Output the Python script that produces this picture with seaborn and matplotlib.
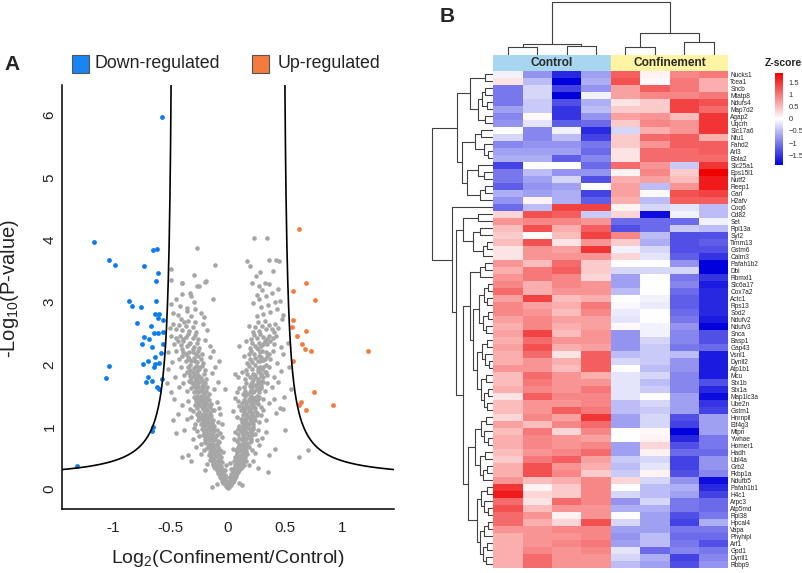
import numpy as np
import pandas as pd
import matplotlib
matplotlib.use("Agg")
import matplotlib.pyplot as plt
import seaborn as sns
from matplotlib.colors import LinearSegmentedColormap
from matplotlib.patches import Rectangle

sns.set_theme(style="white")
plt.rcParams['font.family'] = ['Liberation Sans', 'DejaVu Sans']
plt.rcParams['mathtext.fontset'] = 'custom'
plt.rcParams['mathtext.rm'] = 'Liberation Sans'

# ---------------- Volcano data ----------------
down_points = [(-0.574, 5.97), (-1.17, 3.97), (-1.04, 3.68), (-0.987, 3.60), (-0.736, 3.58),
               (-0.658, 3.84), (-0.623, 3.85), (-0.608, 3.46), (-0.631, 3.33), (-0.865, 3.01),
               (-0.838, 2.94), (-0.762, 2.92), (-0.631, 3.02), (-0.797, 2.66), (-0.635, 2.80),
               (-0.605, 2.81), (-0.611, 2.74), (-0.570, 2.71), (-0.670, 2.61), (-0.736, 2.44),
               (-0.690, 2.41), (-0.748, 2.33), (-0.646, 2.50), (-0.611, 2.50), (-0.565, 2.52),
               (-0.661, 2.28), (-0.570, 2.33), (-0.585, 2.18), (-0.635, 2.11), (-0.702, 2.05),
               (-0.740, 2.00), (-0.640, 2.01), (-0.603, 2.02), (-0.646, 1.95), (-1.04, 1.98),
               (-1.066, 1.78), (-0.696, 1.80), (-0.719, 1.72), (-0.661, 1.73), (-0.576, 1.76),
               (-0.617, 1.63), (-0.605, 1.61), (-0.658, 1.00), (-0.666, 0.93), (-1.316, 0.37)]
up_points = [(0.620, 4.17), (0.678, 3.30), (0.568, 3.18), (0.757, 3.03), (0.568, 2.71),
             (0.559, 2.60), (0.678, 2.54), (0.603, 2.45), (0.644, 2.33), (0.670, 2.25),
             (0.728, 2.22), (1.226, 2.22), (0.571, 2.06), (0.748, 1.55), (0.635, 1.39),
             (0.620, 1.34), (0.920, 1.34), (0.684, 1.26)]
gray_points = [
    # tip
    (0.00,0.01),(-0.01,0.03),(0.01,0.03),(-0.02,0.05),(0.02,0.06),(-0.03,0.08),(0.03,0.07),(0.00,0.06),
    (-0.04,0.10),(0.04,0.11),(-0.01,0.09),(0.01,0.12),(-0.05,0.13),(0.05,0.14),(-0.03,0.15),(0.03,0.16),
    (-0.06,0.17),(0.06,0.18),(-0.07,0.20),(0.07,0.21),(-0.05,0.22),(0.05,0.23),(-0.08,0.24),(0.08,0.25),
    (-0.02,0.19),(0.02,0.20),(-0.14,0.04),(-0.10,0.08),(0.10,0.10),(0.12,0.06),
    (-0.02,0.13),(0.02,0.14),(-0.04,0.18),(0.04,0.19),(-0.06,0.25),(0.06,0.26),(-0.08,0.31),(0.08,0.32),
    (-0.11,0.33),(0.11,0.34),(-0.07,0.36),(0.07,0.37),(-0.09,0.39),(0.09,0.40),(-0.12,0.43),(0.12,0.44),
    (-0.08,0.46),(0.08,0.47),(-0.15,0.50),(0.15,0.51),(-0.03,0.22),(0.03,0.24),(-0.06,0.29),(0.06,0.30),
    (-0.13,0.38),(0.14,0.39),(-0.20,0.30),(0.22,0.45),
    # 0.25-0.5
    (-0.04,0.27),(-0.07,0.28),(-0.10,0.30),(-0.05,0.32),(-0.09,0.34),(-0.12,0.35),(-0.06,0.37),(-0.11,0.39),
    (-0.08,0.41),(-0.13,0.42),(-0.05,0.44),(-0.10,0.45),(-0.14,0.47),(-0.07,0.48),(-0.12,0.49),(-0.16,0.46),
    (-0.03,0.30),(-0.09,0.26),(-0.18,0.40),(-0.02,0.38),
    (0.04,0.27),(0.07,0.29),(0.10,0.31),(0.05,0.33),(0.09,0.35),(0.12,0.36),(0.06,0.38),(0.11,0.40),
    (0.08,0.42),(0.13,0.43),(0.05,0.45),(0.10,0.46),(0.14,0.48),(0.07,0.49),(0.12,0.50),(0.16,0.45),
    (0.03,0.32),(0.09,0.27),(0.18,0.38),(0.02,0.41),(0.35,0.27),(0.26,0.33),
    # 0.5-0.75
    (-0.06,0.52),(-0.10,0.53),(-0.14,0.54),(-0.17,0.55),(-0.08,0.57),(-0.12,0.58),(-0.16,0.60),(-0.07,0.62),
    (-0.11,0.63),(-0.15,0.64),(-0.18,0.66),(-0.09,0.67),(-0.13,0.69),(-0.17,0.70),(-0.10,0.72),(-0.14,0.73),
    (-0.19,0.74),(-0.08,0.75),(-0.21,0.62),(-0.24,0.57),(-0.04,0.60),(-0.28,0.68),(-0.35,0.55),(-0.40,0.52),
    (0.06,0.52),(0.10,0.53),(0.14,0.55),(0.17,0.56),(0.08,0.58),(0.12,0.59),(0.16,0.61),(0.07,0.62),
    (0.11,0.64),(0.15,0.65),(0.18,0.67),(0.09,0.68),(0.13,0.70),(0.17,0.71),(0.10,0.73),(0.14,0.74),
    (0.19,0.75),(0.21,0.63),(0.24,0.58),(0.04,0.64),(0.27,0.70),(0.41,0.65),(0.62,0.52),(0.70,0.63),
    (-0.08,0.54),(0.08,0.55),(-0.12,0.56),(0.12,0.57),(-0.15,0.59),(0.15,0.60),(-0.10,0.61),(0.10,0.62),
    (-0.13,0.65),(0.13,0.66),(-0.17,0.68),(0.17,0.69),(-0.11,0.70),(0.11,0.71),(-0.16,0.73),(0.16,0.74),
    # 0.75-1.0
    (-0.09,0.77),(-0.13,0.78),(-0.17,0.79),(-0.20,0.80),(-0.11,0.82),(-0.15,0.83),(-0.19,0.84),(-0.22,0.86),
    (-0.10,0.87),(-0.14,0.88),(-0.18,0.90),(-0.21,0.91),(-0.12,0.93),(-0.16,0.94),(-0.20,0.95),(-0.23,0.97),
    (-0.13,0.98),(-0.17,0.99),(-0.25,0.85),(-0.27,0.93),(-0.07,0.90),(-0.31,0.80),(-0.38,0.95),(-0.45,0.90),
    (-0.05,0.83),
    (0.08,0.77),(0.12,0.78),(0.16,0.80),(0.20,0.81),(0.10,0.82),(0.14,0.84),(0.18,0.85),(0.21,0.86),
    (0.09,0.88),(0.13,0.89),(0.17,0.90),(0.20,0.92),(0.11,0.93),(0.15,0.94),(0.19,0.96),(0.22,0.97),
    (0.12,0.98),(0.16,1.00),(0.24,0.88),(0.26,0.95),(0.06,0.92),(0.30,0.82),(0.05,0.80),
    (-0.20,0.76),(0.20,0.77),(-0.12,0.79),(0.12,0.80),(-0.15,0.81),(0.15,0.82),(-0.18,0.83),(0.18,0.84),
    (-0.13,0.86),(0.13,0.87),(-0.16,0.89),(0.16,0.90),(-0.20,0.92),(0.20,0.93),(-0.14,0.95),(0.14,0.96),
    (-0.18,0.97),(0.18,0.98),(-0.22,0.99),(0.22,1.00),(-0.10,0.95),(0.09,0.97),(-0.24,0.72),(0.25,0.78),
    (-0.30,0.98),(0.33,0.92),
    # 1.0-1.25
    (-0.12,1.01),(-0.16,1.02),(-0.20,1.03),(-0.24,1.04),(-0.14,1.06),(-0.18,1.07),(-0.22,1.08),(-0.26,1.10),
    (-0.13,1.11),(-0.17,1.12),(-0.21,1.14),(-0.25,1.15),(-0.15,1.17),(-0.19,1.18),(-0.23,1.19),(-0.27,1.21),
    (-0.16,1.22),(-0.20,1.24),(-0.29,1.05),(-0.32,1.16),(-0.09,1.08),(-0.36,1.12),(-0.44,1.20),(-0.07,1.20),
    (0.10,1.01),(0.14,1.03),(0.18,1.04),(0.22,1.05),(0.12,1.07),(0.16,1.08),(0.20,1.09),(0.24,1.11),
    (0.11,1.12),(0.15,1.13),(0.19,1.15),(0.23,1.16),(0.13,1.18),(0.17,1.19),(0.21,1.20),(0.25,1.22),
    (0.14,1.23),(0.18,1.25),(0.27,1.07),(0.29,1.18),(0.08,1.15),(0.33,1.10),(0.42,1.22),(0.48,1.29),
    (-0.14,1.03),(0.13,1.04),(-0.18,1.05),(0.17,1.06),(-0.22,1.06),(0.21,1.07),(-0.16,1.09),(0.15,1.10),
    (-0.20,1.11),(0.19,1.12),(-0.24,1.12),(0.23,1.13),(-0.18,1.15),(0.17,1.16),(-0.22,1.17),(0.21,1.18),
    (-0.26,1.18),(0.25,1.19),(-0.17,1.20),(0.16,1.21),(-0.21,1.22),(0.20,1.23),(-0.25,1.24),(0.24,1.25),
    # 1.25-1.5
    (-0.14,1.26),(-0.18,1.27),(-0.22,1.28),(-0.27,1.30),(-0.16,1.31),(-0.20,1.33),(-0.25,1.34),(-0.29,1.35),
    (-0.15,1.37),(-0.19,1.38),(-0.23,1.39),(-0.28,1.41),(-0.17,1.43),(-0.21,1.44),(-0.26,1.45),(-0.30,1.47),
    (-0.18,1.48),(-0.24,1.50),(-0.33,1.29),(-0.35,1.42),(-0.10,1.40),(-0.40,1.35),(-0.47,1.45),(-0.08,1.30),
    (0.11,1.26),(0.15,1.28),(0.19,1.29),(0.24,1.30),(0.13,1.32),(0.17,1.33),(0.22,1.35),(0.26,1.36),
    (0.12,1.38),(0.16,1.39),(0.21,1.40),(0.25,1.42),(0.14,1.43),(0.18,1.45),(0.23,1.46),(0.27,1.47),
    (0.15,1.49),(0.20,1.50),(0.29,1.32),(0.31,1.44),(0.09,1.41),(0.36,1.38),(0.45,1.30),(0.49,1.48),
    (0.06,1.46),
    (-0.19,1.29),(0.18,1.30),(-0.23,1.31),(0.22,1.32),(-0.17,1.34),(0.16,1.35),(-0.21,1.36),(0.20,1.37),
    (-0.26,1.38),(0.24,1.39),(-0.19,1.41),(0.18,1.42),(-0.24,1.43),(0.22,1.44),(-0.28,1.44),(0.26,1.45),
    (-0.21,1.46),(0.20,1.47),(-0.27,1.49),(0.25,1.49),(-0.12,1.27),(0.10,1.33),(-0.31,1.25),(0.31,1.27),
    # 1.5-1.75
    (-0.17,1.52),(-0.21,1.53),(-0.26,1.55),(-0.30,1.56),(-0.19,1.58),(-0.24,1.59),(-0.28,1.61),(-0.32,1.62),
    (-0.18,1.64),(-0.23,1.65),(-0.27,1.67),(-0.31,1.68),(-0.20,1.70),(-0.25,1.71),(-0.29,1.73),(-0.34,1.74),
    (-0.36,1.58),(-0.39,1.70),(-0.12,1.60),(-0.43,1.63),(-0.50,1.55),(-0.09,1.72),
    (0.13,1.52),(0.17,1.53),(0.22,1.55),(0.27,1.56),(0.15,1.58),(0.20,1.59),(0.25,1.61),(0.29,1.62),
    (0.14,1.64),(0.19,1.65),(0.24,1.67),(0.28,1.68),(0.16,1.70),(0.21,1.71),(0.26,1.73),(0.30,1.74),
    (0.32,1.58),(0.34,1.70),(0.10,1.62),(0.38,1.64),(0.44,1.72),(0.08,1.55),
    (-0.20,1.55),(0.19,1.56),(-0.24,1.57),(0.23,1.58),(-0.28,1.58),(0.27,1.60),(-0.22,1.62),(0.21,1.63),
    (-0.26,1.63),(0.25,1.64),(-0.30,1.65),(0.29,1.66),(-0.22,1.67),(0.20,1.68),(-0.27,1.69),(0.26,1.70),
    (-0.32,1.71),(0.31,1.72),(-0.23,1.74),(0.22,1.75),
    # 1.75-2.0
    (-0.19,1.77),(-0.24,1.78),(-0.29,1.80),(-0.33,1.81),(-0.21,1.84),(-0.27,1.85),(-0.31,1.87),(-0.36,1.88),
    (-0.20,1.91),(-0.25,1.92),(-0.30,1.94),(-0.35,1.95),(-0.23,1.97),(-0.28,1.98),(-0.38,1.83),(-0.41,1.96),
    (-0.14,1.86),(-0.46,1.80),(-0.52,1.92),(-0.11,1.95),
    (0.15,1.77),(0.19,1.79),(0.24,1.80),(0.29,1.82),(0.17,1.84),(0.22,1.85),(0.27,1.87),(0.32,1.88),
    (0.16,1.91),(0.21,1.92),(0.26,1.94),(0.31,1.95),(0.18,1.97),(0.24,1.99),(0.34,1.83),(0.36,1.96),
    (0.12,1.88),(0.40,1.79),(0.46,1.90),(0.09,1.80),
    (-0.27,1.76),(0.26,1.77),(-0.32,1.78),(0.31,1.79),(-0.25,1.82),(0.24,1.83),(-0.30,1.83),(0.29,1.85),
    (-0.34,1.86),(0.33,1.87),(-0.27,1.89),(0.26,1.90),(-0.33,1.91),(0.30,1.92),(-0.25,1.95),(0.28,1.96),
    (-0.33,1.99),(0.33,1.99),
    # 2.0-2.25
    (-0.22,2.02),(-0.27,2.03),(-0.32,2.05),(-0.37,2.06),(-0.24,2.09),(-0.30,2.10),(-0.35,2.12),(-0.40,2.13),
    (-0.23,2.16),(-0.28,2.17),(-0.34,2.19),(-0.39,2.20),(-0.26,2.22),(-0.31,2.24),(-0.43,2.08),(-0.45,2.21),
    (-0.16,2.12),(-0.49,2.03),(-0.13,2.22),
    (0.17,2.02),(0.21,2.04),(0.26,2.05),(0.31,2.07),(0.19,2.09),(0.24,2.10),(0.29,2.12),(0.34,2.13),
    (0.18,2.16),(0.23,2.17),(0.28,2.19),(0.33,2.20),(0.20,2.22),(0.26,2.24),(0.37,2.08),(0.39,2.21),
    (0.14,2.14),(0.43,2.02),(0.48,2.17),
    (-0.29,2.06),(0.28,2.06),(-0.34,2.08),(0.32,2.09),(-0.26,2.13),(0.27,2.14),(-0.37,2.16),(0.36,2.16),
    (-0.31,2.20),(0.30,2.22),
    # 2.25-2.5
    (-0.25,2.27),(-0.30,2.28),(-0.36,2.30),(-0.41,2.31),(-0.27,2.34),(-0.33,2.35),(-0.39,2.37),(-0.44,2.38),
    (-0.26,2.41),(-0.31,2.42),(-0.37,2.44),(-0.42,2.45),(-0.29,2.47),(-0.35,2.49),(-0.47,2.33),(-0.20,2.39),
    (-0.50,2.46),(-0.16,2.30),
    (0.19,2.27),(0.24,2.29),(0.29,2.30),(0.34,2.32),(0.21,2.34),(0.27,2.35),(0.32,2.37),(0.37,2.38),
    (0.20,2.41),(0.25,2.42),(0.31,2.44),(0.36,2.45),(0.23,2.47),(0.28,2.49),(0.40,2.33),(0.42,2.46),
    (0.16,2.37),(0.46,2.28),
    (-0.40,2.25),(0.25,2.26),(-0.34,2.32),(0.31,2.33),(-0.39,2.40),(0.34,2.41),(-0.45,2.43),(0.39,2.42),
    # 2.5-2.75
    (-0.28,2.52),(-0.34,2.54),(-0.40,2.55),(-0.45,2.57),(-0.31,2.60),(-0.37,2.62),(-0.43,2.63),(-0.48,2.65),
    (-0.29,2.68),(-0.35,2.70),(-0.41,2.72),(-0.51,2.58),(-0.22,2.64),(-0.18,2.55),(-0.38,2.68),
    (0.22,2.52),(0.27,2.54),(0.33,2.56),(0.38,2.57),(0.24,2.60),(0.30,2.62),(0.36,2.63),(0.41,2.65),
    (0.26,2.68),(0.32,2.70),(0.44,2.59),(0.47,2.72),(0.18,2.62),(0.40,2.52),
    # scattered between / outside arms
    (-0.05,1.05),(0.04,1.25),(-0.03,1.60),(0.06,1.85),(-0.08,2.05),(0.10,2.30),(-0.52,2.20),(0.52,2.35),
    (0.53,1.95),(-0.53,1.70),(0.55,1.60),(-0.48,1.10),(0.50,0.95),(0.36,0.55),(-0.32,0.45),(0.40,1.45),
    # sparse upper
    (-0.32,2.77),(-0.44,2.79),(-0.48,2.82),(-0.36,2.85),(-0.29,2.88),(-0.24,2.83),(-0.42,2.93),(-0.36,2.91),
    (-0.50,2.96),(-0.21,2.76),(-0.30,3.00),(-0.45,3.05),(-0.13,3.04),(-0.40,3.13),(-0.33,3.15),(-0.32,3.10),
    (-0.25,3.25),(-0.20,3.32),(-0.40,3.30),
    (0.25,2.78),(0.31,2.80),(0.37,2.84),(0.43,2.88),(0.29,2.92),(0.35,2.95),(0.22,2.98),(0.41,3.00),
    (0.48,2.79),(0.27,3.05),(0.33,3.10),(0.38,3.15),(0.30,3.20),(0.25,3.12),(0.45,3.02),
    (-0.274,3.86),(-0.498,3.53),(-0.501,3.36),(-0.402,3.31),(-0.294,3.43),(-0.268,3.25),(-0.195,3.33),
    (-0.111,3.59),(0.224,4.02),(0.344,4.02),(0.163,3.66),(0.195,3.58),(0.282,3.48),(0.247,3.42),
    (0.361,3.67),(0.422,3.68),(0.448,3.66),(0.390,3.50),(0.213,3.30),(0.268,3.25),(0.323,3.30),
    (0.361,3.29),(0.434,3.21),
]
x_ticks = [-1, -0.5, 0, 0.5, 1]
x_tick_labels = ["-1", "-0.5", "0", "0.5", "1"]
y_ticks = [0, 1, 2, 3, 4, 5, 6]
# threshold curve parameters: y = c / (|x| - x0) + y0
curve_c, curve_x0, curve_y0 = 0.159, 0.472, 0.15

# ---------------- Heatmap data ----------------
genes = ["Nucks1", "Tcea1", "Sncb", "Mtatp8", "Ndufs4", "Map7d2", "Agap2", "Uqcrh", "Slc17a6", "Nfu1",
         "Fahd2", "Arl3", "Bola2", "Slc25a1", "Eps15l1", "Nutf2", "Reep1", "Garl", "H2afv", "Coq6",
         "Cd82", "Set", "Rpl13a", "Syt2", "Timm13", "Gstm6", "Calm3", "Pafah1b2", "Dbi", "Rbmxl1",
         "Slc6a17", "Cox7a2", "Actc1", "Rps13", "Sod2", "Ndufv2", "Ndufv3", "Snca", "Basp1", "Gap43",
         "Vsnl1", "Dynll2", "Atp1b1", "Mcu", "Stx1b", "Stx1a", "Map1lc3a", "Ube2n", "Gstm1", "Hnrnpll",
         "Eif4g3", "Mtpn", "Ywhae", "Homer1", "Hadh", "Ubl4a", "Grb2", "Fkbp1a", "Ndufb5", "Pafah1b1",
         "H4c1", "Arpc3", "Atp5md", "Rpl38", "Hpcal4", "Vapa", "Phyhipl", "Arf1", "Gpd1", "Dynll1",
         "Rbbp9"]
ctrl1 = [-0.1,0.2,-1.0,-1.0,-1.0,-0.7,-0.9,-0.8,0.0,-0.3,
         -0.9,-0.7,-0.6,-1.4,-1.0,-1.0,-1.2,-0.6,-0.8,-1.1,
         0.3,0.8,0.5,0.4,0.5,0.2,0.2,0.8,0.6,0.8,
         0.9,1.1,0.7,0.9,0.9,0.7,0.6,0.7,0.6,0.7,
         0.6,0.6,0.8,0.5,0.5,0.6,0.2,0.5,0.5,0.3,
         0.7,0.5,0.6,0.6,0.5,0.4,0.6,0.6,0.8,1.5,
         1.7,1.1,1.3,1.1,1.1,0.8,0.6,0.6,0.6,0.6,
         0.6]
ctrl2 = [-0.8,-0.5,-0.3,-0.3,-0.4,-0.4,0.05,-0.2,-0.9,-0.9,
         -0.8,-0.7,-0.6,0.0,-0.5,-0.7,-0.8,-0.7,0.1,-0.5,
         1.3,0.9,1.3,0.0,1.3,0.8,0.8,0.5,1.0,1.0,
         0.6,0.6,1.4,0.7,0.8,0.9,0.9,1.4,1.1,1.3,
         1.1,0.8,0.8,1.1,1.0,0.9,1.2,0.8,0.8,0.9,
         0.5,1.0,0.9,0.9,0.8,1.0,1.3,1.3,0.5,0.1,
         0.3,0.2,0.5,0.8,0.6,0.8,0.8,0.8,0.9,1.1,
         1.1]
ctrl3 = [-1.6,-1.9,-1.4,-1.9,-1.3,-1.5,-1.5,-1.2,-0.1,-0.5,
         -0.8,-0.7,-1.2,0.0,-0.8,-0.3,-0.7,-0.6,-0.6,1.4,
         1.2,0.9,0.6,0.5,0.2,0.7,0.8,1.1,1.2,0.9,
         0.9,0.8,0.5,0.6,0.5,0.7,0.6,0.5,0.8,0.6,
         0.2,0.6,0.5,0.8,0.8,0.8,0.9,0.8,1.2,0.7,
         0.9,0.3,0.8,0.8,0.9,1.2,0.8,0.9,0.6,0.4,
         0.4,1.1,0.8,0.1,0.3,0.9,0.8,0.9,0.8,0.8,
         0.8]
ctrl4 = [-0.7,-0.6,-0.8,-0.1,-0.6,-0.5,-0.8,-1.1,-1.6,-1.4,
         -1.0,-1.1,-0.9,-1.1,-0.8,-1.3,0.0,-1.4,-1.2,1.4,
         -0.4,0.8,1.2,1.4,0.8,1.5,0.8,0.4,0.4,0.3,
         0.8,0.8,0.6,1.0,0.9,0.7,0.7,0.8,0.8,0.7,
         1.2,1.2,1.2,0.6,0.8,1.0,0.9,0.9,1.0,1.5,
         1.1,0.9,0.7,0.9,1.1,0.7,0.6,0.4,0.9,0.9,
         0.9,0.9,0.8,0.8,1.3,0.9,0.9,1.0,0.9,0.8,
         0.8]
conf1 = [1.2,1.3,0.7,0.7,0.2,0.4,0.7,0.4,-0.3,0.4,
         0.4,0.2,0.2,1.1,0.1,0.6,0.7,0.7,0.6,0.1,
         0.3,-1.1,-1.3,0.9,0.4,-0.1,0.3,0.0,-0.3,-0.7,
         -0.7,-0.5,0.0,-0.05,-0.15,-0.2,0.05,-0.8,-0.8,-0.8,
         -0.5,-0.3,0.0,-0.2,-0.2,-0.2,-0.2,-0.5,-0.5,-0.7,
         -0.7,0.0,0.0,-0.7,-0.7,-0.4,-0.5,-0.4,0.3,0.0,
         -0.3,-0.8,-0.6,0.0,-0.3,-0.7,-0.8,-0.7,-0.2,-0.3,
         -0.5]
conf2 = [0.1,0.05,1.2,0.9,0.4,0.4,0.8,0.9,0.6,1.1,
         0.8,1.1,1.1,0.8,0.9,0.7,-0.5,0.05,-0.5,-0.3,
         -1.8,-1.1,-1.1,-0.5,-0.6,-0.3,-0.2,0.0,-0.3,0.0,
         0.0,0.0,-0.1,-0.15,0.0,0.0,-0.1,-0.1,-0.3,-0.4,
         -0.4,-0.4,-0.5,-0.3,-0.5,-0.4,0.0,-0.3,-0.4,-0.3,
         -0.3,0.05,0.1,0.3,0.1,-0.3,-0.2,0.1,-0.3,-0.5,
         -0.5,-0.3,-0.6,-0.7,-0.7,-0.7,-0.5,-0.5,-1.1,-0.6,
         -0.7]
conf3 = [0.9,1.0,1.0,0.9,1.4,1.4,0.5,0.8,0.8,1.2,
         1.2,1.1,1.1,-0.4,0.4,0.5,0.8,1.3,1.2,-0.2,
         -0.1,-1.1,-0.4,-1.3,-1.3,-1.3,-1.2,-0.8,-0.3,-1.0,
         -0.9,-1.1,-1.2,-1.2,-1.1,-1.0,-0.8,-0.9,-0.9,-1.0,
         -0.5,-0.8,-0.8,-0.9,-0.9,-0.9,-0.7,-0.7,-0.7,-1.3,
         -1.4,-1.9,-1.6,-1.3,-1.1,-1.4,-1.4,-1.3,-0.8,-0.6,
         -0.7,-1.0,-1.0,-1.3,-1.4,-1.0,-1.1,-1.0,-0.9,-1.4,
         -1.3]
conf4 = [1.0,0.6,0.6,1.0,1.3,1.1,1.5,1.5,1.5,0.6,
         1.2,1.2,1.1,1.5,1.9,1.7,1.7,1.4,1.2,-0.5,
         -0.5,-0.1,-0.5,-1.3,-1.2,-1.3,-1.5,-1.9,-1.9,-1.5,
         -1.7,-1.6,-1.6,-1.6,-1.6,-1.7,-1.9,-1.3,-1.3,-1.1,
         -1.7,-1.7,-1.7,-1.7,-1.3,-1.6,-1.8,-1.5,-1.4,-0.7,
         -0.7,-0.7,-1.0,-1.0,-1.1,-0.8,-0.8,-0.9,-1.8,-1.6,
         -1.4,-1.1,-1.1,-1.0,-0.6,-1.0,-1.1,-1.3,-1.0,-0.9,
         -0.8]
groups = ["Control", "Confinement"]
cbar_ticks = [1.5, 1, 0.5, 0, -0.5, -1, -1.5]
cbar_labels = ["1.5", "1", "0.5", "0", "\u22120.5", "\u22121", "\u22121.5"]

# dendrogram trees (height, left, right); leaves are row / column indices
col_tree = (53.3, (11.3, (8.3, 0, 1), (9.3, 2, 3)), (21.7, (8.3, 4, 5), (12.7, 6, 7)))
T1 = (23.3, (8.3, 0, 1), (15, (11, (8, 2, 3), (6, 4, 5)), (8, 6, 7)))
T2 = (31.7, (18.3, (12, 8, 9), (9, 10, (5, 11, 12))),
      (26.7, (15, 13, (9, 14, 15)), (13, (8, 16, 17), 18)))
A_ = (30, (15, 20, 21), (20, (13, 22, 23), (10, (6, 24, 25), 26)))
B1 = (23, (13, (8, 27, 28), 29),
      (20, (14, (9, (5, 30, 31), (6, 32, 33)), (10, (5, 34, 35), (7, 36, 37))),
           (16, (11, (6, 38, 39), (8, 40, (4, 41, 42))), (12, (7, 43, 44), (9, (5, 45, 46), (6, 47, 48))))))
B2 = (25, (18, (12, (7, 49, 50), (9, 51, (5, 52, 53))), (13, (8, 54, 55), (10, (6, 56, 57), 58))),
      (16, (12, (6, 59, 60), (9, 61, (5, 62, 63))), (13, (9, (5, 64, 65), 66), (10, (6, 67, 68), (7, 69, 70)))))
row_tree = (61.7, (36.7, T1, T2), (41.7, 19, (37.3, A_, (30, B1, B2))))

# ---------------- Figure ----------------
W, H = 803, 573
fig = plt.figure(figsize=(W / 100, H / 100), dpi=100)
fig.patch.set_facecolor("white")


def box(x0, y0, x1, y1):
    return [x0 / W, 1 - y1 / H, (x1 - x0) / W, (y1 - y0) / H]


# ---- Panel A: volcano ----
ax = fig.add_axes(box(62, 85, 394, 509))
gdf = pd.DataFrame(gray_points, columns=["x", "y"])
ddf = pd.DataFrame(down_points, columns=["x", "y"])
udf = pd.DataFrame(up_points, columns=["x", "y"])
sns.scatterplot(data=gdf, x="x", y="y", color="#a6a6a6", s=11, linewidth=0, ax=ax)
sns.scatterplot(data=ddf, x="x", y="y", color="#0b7bf2", s=12, linewidth=0, ax=ax)
sns.scatterplot(data=udf, x="x", y="y", color="#f47b3d", s=12, linewidth=0, ax=ax)

for sgn in (-1, 1):
    xs = np.linspace(curve_x0 + curve_c / 8.0, 1.5, 400)
    ys = curve_c / (xs - curve_x0) + curve_y0
    ax.plot(sgn * xs, ys, color="black", lw=1.2)

ax.set_xlim(-1.45, 1.45)
ax.set_ylim(-0.32, 6.48)
ax.set_xticks(x_ticks)
ax.set_xticklabels(x_tick_labels)
ax.set_yticks(y_ticks)
ax.set_yticklabels([str(v) for v in y_ticks])
for s in ["top", "right"]:
    ax.spines[s].set_visible(False)
for s in ["left", "bottom"]:
    ax.spines[s].set_color("black")
    ax.spines[s].set_linewidth(1.1)
ax.tick_params(axis="both", which="both", length=0, labelsize=11, colors="#222222")
ax.tick_params(axis="x", pad=9)
ax.tick_params(axis="y", pad=4, labelrotation=90)
for lab in ax.get_yticklabels():
    lab.set_va("center")
ax.set_xlabel("Log$_{2}$(Confinement/Control)", fontsize=14, color="#222222")
ax.set_ylabel("-Log$_{10}$(P-value)", fontsize=14.5, color="#222222")
ax.xaxis.set_label_coords(0.5, -0.093)
ax.yaxis.set_label_coords(-0.122, 0.52)

# legend
fig.patches.append(Rectangle((72 / W, 1 - 72.5 / H), 17 / W, 17 / H, transform=fig.transFigure,
                             facecolor="#1a84f0", edgecolor="#555555", lw=0.8))
fig.text(95 / W, 1 - 64 / H, "Down-regulated", fontsize=12.8, va="center", ha="left", color="#222222")
fig.patches.append(Rectangle((252 / W, 1 - 72.5 / H), 17 / W, 17 / H, transform=fig.transFigure,
                             facecolor="#f47b3d", edgecolor="#555555", lw=0.8))
fig.text(278 / W, 1 - 64 / H, "Up-regulated", fontsize=12.8, va="center", ha="left", color="#222222")

fig.text(12 / W, 1 - 65 / H, "A", fontsize=15, fontweight="bold", ha="center", va="center")
fig.text(447 / W, 1 - 17 / H, "B", fontsize=15, fontweight="bold", ha="center", va="center")

# ---- Panel B: heatmap ----
hx0, hx1, hy0, hy1 = 493.3, 728.3, 70.7, 567.7
axh = fig.add_axes(box(hx0, hy0, hx1, hy1))
cax = fig.add_axes(box(775, 72.7, 783, 165))
df = pd.DataFrame({"C1": ctrl1, "C2": ctrl2, "C3": ctrl3, "C4": ctrl4,
                   "F1": conf1, "F2": conf2, "F3": conf3, "F4": conf4}, index=genes)
cmap = LinearSegmentedColormap.from_list("bwr2", ["#0000dc", "#ffffff", "#ee0000"])
sns.heatmap(df, ax=axh, cmap=cmap, vmin=-1.9, vmax=1.9, cbar_ax=cax,
            xticklabels=False, yticklabels=True, linewidths=0,
            cbar_kws={"ticks": cbar_ticks})
axh.yaxis.tick_right()
axh.set_yticks(np.arange(len(genes)) + 0.5)
axh.set_yticklabels(genes, rotation=0, fontsize=4.7, color="#222222")
axh.tick_params(axis="y", length=0, pad=1.5)
axh.set_xlabel("")
axh.set_ylabel("")

cb = axh.collections[0].colorbar
cb.set_ticks(cbar_ticks)
cb.set_ticklabels(cbar_labels)
cb.outline.set_visible(False)
cax.tick_params(length=0, labelsize=5.5, pad=4, colors="#333333")
fig.text(783 / W, 1 - 63 / H, "Z-score", fontsize=7.5, fontweight="bold", ha="center", va="center",
         color="#222222")

# column annotation bar
axc = fig.add_axes(box(hx0, 55, hx1, 70.7))
axc.set_xlim(0, 8)
axc.set_ylim(0, 1)
axc.axvspan(0, 4, color="#a8d5ef")
axc.axvspan(4, 8, color="#fff4a3")
axc.text(2, 0.5, groups[0], ha="center", va="center", fontsize=8.6, fontweight="bold", color="#2a2a2a")
axc.text(6, 0.5, groups[1], ha="center", va="center", fontsize=8.6, fontweight="bold", color="#2a2a2a")
axc.axis("off")

# dendrograms
line_kw = dict(color="#404040", lw=0.8, solid_capstyle="butt")


def draw_tree(axd, node, orient):
    if isinstance(node, int):
        return node + 0.5, 0.0
    h, a, b = node
    pa, ha = draw_tree(axd, a, orient)
    pb, hb = draw_tree(axd, b, orient)
    if orient == "left":
        axd.plot([ha, h, h, hb], [pa, pa, pb, pb], **line_kw)
    else:
        axd.plot([pa, pa, pb, pb], [ha, h, h, hb], **line_kw)
    return (pa + pb) / 2, h


axr = fig.add_axes(box(428, hy0, hx0, hy1))
draw_tree(axr, row_tree, "left")
axr.set_xlim(hx0 - 428, 0)
axr.set_ylim(len(genes), 0)
axr.axis("off")

axt = fig.add_axes(box(hx0, 0, hx1, 55))
draw_tree(axt, col_tree, "top")
axt.set_xlim(0, 8)
axt.set_ylim(0, 55)
axt.axis("off")

fig.savefig("out.png", dpi=100, facecolor="white")
